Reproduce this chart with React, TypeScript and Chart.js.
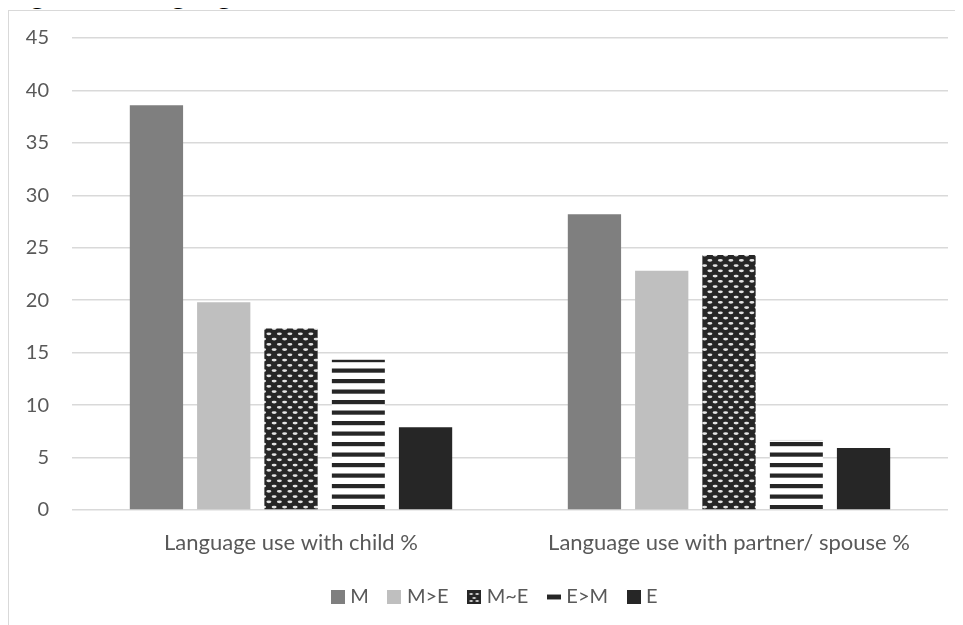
import React, { useEffect, useRef } from "react";
import { Chart, registerables } from "chart.js";

Chart.register(...registerables);

const categories = ["Language use with child %", "Language use with partner/ spouse %"];
const seriesNames = ["M", "M>E", "M~E", "E>M", "E"];
const valuesM = [38.6, 28.2];
const valuesMgtE = [19.8, 22.8];
const valuesMapproxE = [17.3, 24.3];
const valuesEgtM = [14.4, 6.7];
const valuesE = [7.9, 5.9];
const yMin = 0;
const yMax = 45;
const yStep = 5;

const TEXT = "#595959";
const FONT = "Lato";

function makeDotTile(): HTMLCanvasElement {
  const t = document.createElement("canvas");
  t.width = 21;
  t.height = 21;
  const c = t.getContext("2d")!;
  c.fillStyle = "#262626";
  c.fillRect(0, 0, 21, 21);
  c.fillStyle = "#e4e4e4";
  for (let r = 0; r < 4; r++) {
    const y = r * 5.25 + 2.6;
    const off = (r % 2) * 5.25;
    for (let k = -1; k < 3; k++) {
      const x = k * 10.5 + off + 2.6;
      c.beginPath();
      c.ellipse(x, y, 2.5, 1.4, 0, 0, Math.PI * 2);
      c.fill();
    }
  }
  return t;
}

function makeStripeTile(): HTMLCanvasElement {
  const t = document.createElement("canvas");
  t.width = 4;
  t.height = 21;
  const c = t.getContext("2d")!;
  c.fillStyle = "#ffffff";
  c.fillRect(0, 0, 4, 21);
  c.fillStyle = "#262626";
  c.fillRect(0, 0.5, 4, 4.2);
  c.fillRect(0, 11, 4, 4.2);
  return t;
}

function solidBox(color: string): HTMLCanvasElement {
  const t = document.createElement("canvas");
  t.width = 14;
  t.height = 14;
  const c = t.getContext("2d")!;
  c.fillStyle = color;
  c.fillRect(0, 0, 14, 14);
  return t;
}

function dotBox(): HTMLCanvasElement {
  const t = document.createElement("canvas");
  t.width = 14;
  t.height = 14;
  const c = t.getContext("2d")!;
  c.fillStyle = "#262626";
  c.fillRect(0, 0, 14, 14);
  c.fillStyle = "#d8d8d8";
  const pts = [
    [4, 4],
    [10, 4],
    [7, 8],
    [4, 11],
    [10, 11],
  ];
  pts.forEach(([x, y]) => {
    c.beginPath();
    c.ellipse(x, y, 1.8, 1.1, 0, 0, Math.PI * 2);
    c.fill();
  });
  return t;
}

function stripeBox(): HTMLCanvasElement {
  const t = document.createElement("canvas");
  t.width = 14;
  t.height = 14;
  const c = t.getContext("2d")!;
  c.fillStyle = "#9a9a9a";
  c.fillRect(0, 4, 14, 6);
  c.fillStyle = "#262626";
  c.fillRect(0, 5, 14, 4);
  return t;
}

const legendShift = {
  id: "legendShift",
  afterLayout(chart: any) {
    if (chart.legend) {
      chart.legend.left += 36;
    }
  },
};

export default function App() {
  const ref = useRef<HTMLCanvasElement | null>(null);

  useEffect(() => {
    const canvas = ref.current!;
    const ctx = canvas.getContext("2d")!;
    const dotPattern = ctx.createPattern(makeDotTile(), "repeat")!;
    const stripePattern = ctx.createPattern(makeStripeTile(), "repeat")!;
    const fills: any[] = ["#7f7f7f", "#bfbfbf", dotPattern, stripePattern, "#262626"];
    const legendImgs = [
      solidBox("#7f7f7f"),
      solidBox("#bfbfbf"),
      dotBox(),
      stripeBox(),
      solidBox("#262626"),
    ];
    const seriesValues = [valuesM, valuesMgtE, valuesMapproxE, valuesEgtM, valuesE];

    const chart = new Chart(canvas, {
      type: "bar",
      data: {
        labels: categories,
        datasets: seriesNames.map((name, i) => ({
          label: name,
          data: seriesValues[i],
          backgroundColor: fills[i],
          borderColor: "#d0d0d0",
          borderSkipped: false,
          borderWidth: i === 3 ? { top: 1, left: 0, right: 0, bottom: 0 } : 0,
          categoryPercentage: 0.768,
          barPercentage: 0.792,
        })),
      },
      plugins: [legendShift],
      options: {
        responsive: false,
        animation: false,
        devicePixelRatio: 1,
        layout: { padding: { top: 27, right: 15, bottom: 8, left: 0 } },
        plugins: {
          tooltip: { enabled: false },
          title: { display: false },
          legend: {
            display: true,
            position: "bottom",
            labels: {
              usePointStyle: true,
              pointStyleWidth: 5,
              padding: 23,
              color: TEXT,
              font: { family: FONT, size: 20 },
              generateLabels: () =>
                seriesNames.map((name, i) => ({
                  text: name,
                  fillStyle: "transparent",
                  strokeStyle: "transparent",
                  lineWidth: 0,
                  hidden: false,
                  datasetIndex: i,
                  pointStyle: legendImgs[i] as any,
                  fontColor: TEXT,
                })),
            },
          },
        },
        scales: {
          x: {
            grid: { display: false, drawTicks: false },
            border: { display: false },
            ticks: {
              color: TEXT,
              font: { family: FONT, size: 22 },
              padding: 20,
              maxRotation: 0,
            },
            afterFit: (scale: any) => {
              scale.height = 54;
            },
          },
          y: {
            min: yMin,
            max: yMax,
            grid: {
              color: "#d9d9d9",
              lineWidth: 1.5,
              drawTicks: true,
              tickLength: 22,
              tickColor: "rgba(0,0,0,0)",
            },
            border: { display: false },
            ticks: {
              stepSize: yStep,
              color: TEXT,
              font: { family: FONT, size: 20 },
              padding: 1,
            },
            afterFit: (scale: any) => {
              scale.width = 63;
            },
          },
        },
      },
    });
    return () => chart.destroy();
  }, []);

  return (
    <div style={{ position: "relative", width: 955, height: 617 }}>
      <div
        style={{
          position: "absolute",
          left: -1,
          top: -29,
          fontFamily: FONT,
          fontSize: 29,
          lineHeight: "28px",
          color: "#000",
          whiteSpace: "nowrap",
        }}
      >
        Figure 1: Language use
      </div>
      <div style={{ position: "absolute", left: 0, top: 0, width: 955, height: 617, overflow: "hidden" }}>
        <div
          style={{
            position: "absolute",
            left: 0,
            top: 2,
            width: 1000,
            height: 700,
            borderLeft: "1px solid #d9d9d9",
            borderTop: "1px solid #d9d9d9",
            background: "#fff",
          }}
        >
          <canvas ref={ref} width={954} height={614} style={{ display: "block", width: 954, height: 614 }} />
        </div>
      </div>
    </div>
  );
}
